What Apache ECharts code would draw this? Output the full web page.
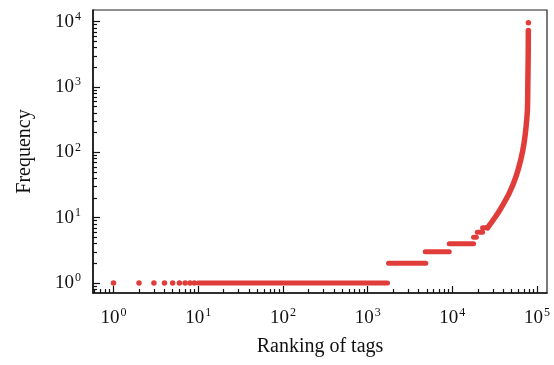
<!DOCTYPE html>
<html>
<head>
<meta charset="utf-8">
<script src="https://cdn.jsdelivr.net/npm/echarts@6/dist/echarts.min.js"></script>
<style>
  html, body { margin: 0; padding: 0; background: #fff; }
  #chart { width: 554px; height: 365px; }
</style>
</head>
<body>
<div id="chart"></div>
<script>
// individual dots at the lowest ranks (frequency 1)
const lowRanks = [1, 2, 3, 4, 5, 6, 7, 8, 9];
const lowFreqs = [1, 1, 1, 1, 1, 1, 1, 1, 1];

// flat runs of equal frequency (rank where the run starts / ends)
const stepFreqs = [1, 2, 3, 4, 5, 6, 7];
const stepStart = [10, 1766, 4790, 9190, 17800, 19700, 22740];
const stepEnd = [1718, 4864, 9190, 17800, 19200, 22740, 26040];

// rising tail of the ranking
const tailRanks = [26040, 30500, 36500, 47100, 56500, 64200, 70200, 74200, 76900, 77900, 78700, 78900];
const tailFreqs = [7, 9.3, 13.2, 24, 43, 77, 138, 248, 446, 1285, 3690, 7300];

// most frequent tag, drawn apart from the tail
const topRank = [79000];
const topFreq = [9660];

const xMajor = [1, 10, 100, 1000, 10000, 100000];
const yMajor = [1, 10, 100, 1000, 10000];

const red = '#e03c3a';
const font = "'Liberation Serif', 'Times New Roman', serif";

function minorTicks(from, to) {
  const out = [];
  for (let p = -1; p <= 5; p++) {
    for (let m = 2; m <= 9; m++) {
      const v = m * Math.pow(10, p);
      if (v > from && v < to) out.push(v);
    }
  }
  return out;
}

const xMin = 0.573, xMax = 131000;
const yMin = 0.703, yMax = 15100;

function supLabel(v) {
  const e = Math.round(Math.log10(v));
  return '{b|10}{s|' + e + '}';
}
const labelRich = {
  b: { fontFamily: font, fontSize: 19, color: '#111', lineHeight: 22 },
  s: { fontFamily: font, fontSize: 12, color: '#111', verticalAlign: 'top', lineHeight: 20, padding: [0, 0, 0, 1] }
};

function majorAxis(isX) {
  return {
    type: 'log',
    logBase: 10,
    min: isX ? xMin : yMin,
    max: isX ? xMax : yMax,
    position: isX ? 'bottom' : 'left',
    name: isX ? 'Ranking of tags' : 'Frequency',
    nameLocation: 'middle',
    nameGap: isX ? 44 : 58,
    nameTextStyle: { fontFamily: font, fontSize: 20, color: '#111' },
    axisLine: { show: true, lineStyle: { color: '#111', width: 1.5 } },
    axisTick: { show: true, inside: true, length: 7, customValues: isX ? xMajor : yMajor, lineStyle: { color: '#111', width: 1.2 } },
    minorTick: { show: false },
    splitLine: { show: false },
    axisLabel: {
      customValues: isX ? xMajor : yMajor,
      margin: isX ? 14 : 12,
      formatter: supLabel,
      rich: labelRich
    }
  };
}

function minorAxis(isX) {
  return {
    type: 'log',
    logBase: 10,
    min: isX ? xMin : yMin,
    max: isX ? xMax : yMax,
    position: isX ? 'bottom' : 'left',
    axisLine: { show: false },
    axisTick: { show: true, inside: true, length: 4, customValues: isX ? minorTicks(xMin, xMax) : minorTicks(yMin, yMax), lineStyle: { color: '#111', width: 1.2 } },
    axisLabel: { show: false },
    splitLine: { show: false }
  };
}

const series = [];
series.push({
  type: 'scatter',
  data: lowRanks.map((r, i) => [r, lowFreqs[i]]),
  symbolSize: 5.5,
  itemStyle: { color: red, opacity: 1 },
  silent: true
});
for (let i = 0; i < stepFreqs.length; i++) {
  series.push({
    type: 'line',
    data: [[stepStart[i], stepFreqs[i]], [stepEnd[i], stepFreqs[i]]],
    showSymbol: false,
    lineStyle: { color: red, width: 5, cap: 'round' },
    silent: true
  });
}
series.push({
  type: 'line',
  data: tailRanks.map((r, i) => [r, tailFreqs[i]]),
  showSymbol: false,
  smooth: 0.3,
  lineStyle: { color: red, width: 5.5, cap: 'round', join: 'round' },
  silent: true
});
series.push({
  type: 'scatter',
  data: topRank.map((r, i) => [r, topFreq[i]]),
  symbolSize: 5.5,
  itemStyle: { color: red, opacity: 1 },
  silent: true
});

const chart = echarts.init(document.getElementById('chart'), null, { renderer: 'canvas' });
chart.setOption({
  animation: false,
  backgroundColor: '#fff',
  grid: {
    left: 93, right: 7, top: 10, bottom: 72,
    show: true, borderColor: '#222', borderWidth: 1.2,
    outerBoundsMode: 'none'
  },
  xAxis: [majorAxis(true), minorAxis(true)],
  yAxis: [majorAxis(false), minorAxis(false)],
  series: series
});
</script>
</body>
</html>
